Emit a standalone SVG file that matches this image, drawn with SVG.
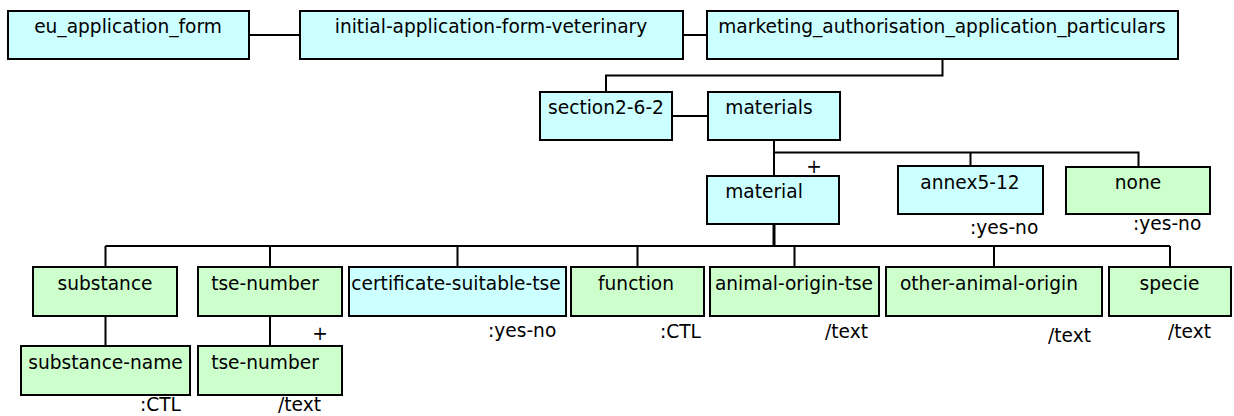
<svg xmlns="http://www.w3.org/2000/svg" width="1234" height="416" viewBox="0 0 1234 416">
<style>
.b{stroke:#000;stroke-width:2}
.c{fill:#CCFFFF}
.g{fill:#CCFFCC}
text{font-family:"DejaVu Sans","Liberation Sans",sans-serif;font-size:18.6px;fill:#000}
.m{text-anchor:middle}
.l{fill:none;stroke:#000;stroke-width:2}
</style>
<rect width="1234" height="416" fill="#fff"/>
<g id="connectors">
<path class="l" d="M249 35H300M683 35H707"/>
<path class="l" d="M942.5 59V75.5H606V92"/>
<path class="l" d="M672 116H708"/>
<path class="l" d="M774 140V176M774 152.5H1138.5V167M970.5 152.5V166"/>
<path class="l" d="M774 224V246" style="stroke-width:3"/>
<path class="l" d="M105.5 246H1170M105.5 246V267M270 246V267M457.5 246V267M637.5 246V267M794.5 246V267M994 246V267M1170 246V267"/>
<path class="l" d="M105.5 316V346M270 316V346"/>
</g>
<g id="n-eu"><rect class="b c" x="8" y="11" width="241" height="48"/><text class="m" x="128" y="33">eu_application_form</text></g>
<g id="n-initial"><rect class="b c" x="300" y="11" width="383" height="48"/><text class="m" x="491" y="33">initial-application-form-veterinary</text></g>
<g id="n-marketing"><rect class="b c" x="707" y="11" width="471" height="48"/><text class="m" x="942" y="33">marketing_authorisation_application_particulars</text></g>
<g id="n-section"><rect class="b c" x="540" y="92" width="132" height="48"/><text class="m" x="606" y="113.5">section2-6-2</text></g>
<g id="n-materials"><rect class="b c" x="708" y="92" width="132" height="48"/><text class="m" x="769" y="113.5">materials</text></g>
<g id="n-material"><rect class="b c" x="707" y="176" width="132" height="48"/><text class="m" x="764" y="198">material</text><text class="m" x="814" y="173">+</text></g>
<g id="n-annex"><rect class="b c" x="898" y="166" width="145" height="48"/><text class="m" x="970" y="189">annex5-12</text><text x="970" y="234">:yes-no</text></g>
<g id="n-none"><rect class="b g" x="1066" y="167" width="144" height="47"/><text class="m" x="1138" y="189">none</text><text x="1133" y="230">:yes-no</text></g>
<g id="n-substance"><rect class="b g" x="33" y="267" width="144" height="49"/><text class="m" x="105" y="290">substance</text></g>
<g id="n-tse-number"><rect class="b g" x="198" y="267" width="144" height="49"/><text class="m" x="265" y="290">tse-number</text></g>
<g id="n-certificate"><rect class="b c" x="349" y="267" width="217" height="49"/><text class="m" x="456" y="290">certificate-suitable-tse</text><text x="488" y="337">:yes-no</text></g>
<g id="n-function"><rect class="b g" x="571" y="267" width="133" height="49"/><text class="m" x="636" y="290">function</text><text x="660" y="338">:CTL</text></g>
<g id="n-animal-origin-tse"><rect class="b g" x="710" y="267" width="169" height="49"/><text class="m" x="794" y="290">animal-origin-tse</text><text x="825" y="338">/text</text></g>
<g id="n-other-animal-origin"><rect class="b g" x="886" y="267" width="216" height="49"/><text class="m" x="989" y="290">other-animal-origin</text><text x="1048" y="341.5">/text</text></g>
<g id="n-specie"><rect class="b g" x="1109" y="267" width="122" height="49"/><text class="m" x="1169.5" y="290">specie</text><text x="1168" y="338">/text</text></g>
<g id="n-substance-name"><rect class="b g" x="21" y="346" width="169" height="49"/><text class="m" x="105.5" y="368.5">substance-name</text><text x="140" y="411">:CTL</text></g>
<g id="n-tse-number-2"><rect class="b g" x="198" y="346" width="144" height="49"/><text class="m" x="265" y="368.5">tse-number</text><text class="m" x="320" y="340">+</text><text x="278" y="411">/text</text></g>
</svg>
